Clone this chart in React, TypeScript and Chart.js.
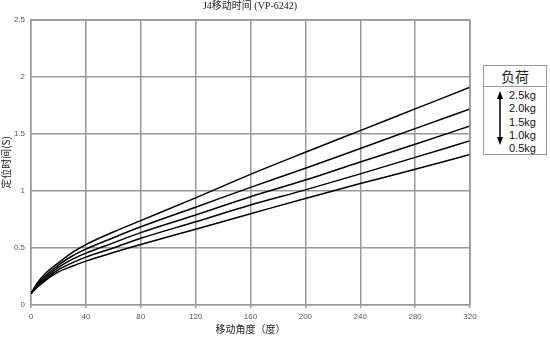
import React, { useEffect, useRef } from "react";
import { Chart, registerables } from "chart.js";

Chart.register(...registerables);

const angles = [0, 5, 10, 20, 30, 40, 60, 80, 120, 160, 200, 240, 280, 320];
const load25 = [0.1, 0.2, 0.27, 0.37, 0.46, 0.53, 0.64, 0.74, 0.94, 1.146, 1.34, 1.53, 1.72, 1.91];
const load20 = [0.1, 0.19, 0.25, 0.35, 0.43, 0.49, 0.59, 0.686, 0.858, 1.032, 1.2, 1.373, 1.547, 1.72];
const load15 = [0.1, 0.18, 0.235, 0.33, 0.4, 0.455, 0.545, 0.635, 0.79, 0.95, 1.096, 1.255, 1.41, 1.57];
const load10 = [0.1, 0.17, 0.22, 0.31, 0.37, 0.42, 0.5, 0.585, 0.73, 0.877, 1.01, 1.15, 1.295, 1.44];
const load05 = [0.1, 0.16, 0.21, 0.29, 0.34, 0.385, 0.46, 0.53, 0.665, 0.8, 0.935, 1.065, 1.19, 1.32];
const seriesNames = ["2.5kg", "2.0kg", "1.5kg", "1.0kg", "0.5kg"];
const seriesValues = [load25, load20, load15, load10, load05];
const xTicks = [0, 40, 80, 120, 160, 200, 240, 280, 320];
const yTicks = [0, 0.5, 1, 1.5, 2, 2.5];

export default function App() {
  const ref = useRef<HTMLCanvasElement>(null);
  useEffect(() => {
    if (!ref.current) return;
    const chart = new Chart(ref.current, {
      type: "line",
      data: {
        datasets: seriesValues.map((vals, i) => ({
          label: seriesNames[i],
          data: vals.map((v, j) => ({ x: angles[j], y: v })),
          borderColor: "#000",
          borderWidth: 1.5,
          pointRadius: 0,
          cubicInterpolationMode: "monotone" as const,
          fill: false,
        })),
      },
      options: {
        animation: false,
        responsive: false,
        devicePixelRatio: 1,
        layout: { padding: { top: 20, right: 80, left: 0, bottom: 0 } },
        plugins: { legend: { display: false }, tooltip: { enabled: false }, title: { display: false } },
        scales: {
          x: {
            type: "linear",
            min: 0,
            max: 320,
            afterBuildTicks: (s: any) => { s.ticks = xTicks.map((v) => ({ value: v })); },
            afterFit: (s: any) => { s.height = 32; },
            grid: { color: "#999", lineWidth: 1.5, tickLength: 3, drawTicks: true },
            border: { color: "#999", width: 1.5 },
            ticks: { color: "#555", font: { family: "Arial, 'Liberation Sans'", size: 8 }, padding: 4, maxRotation: 0 },
            title: { display: true, text: "移动角度（度）", color: "#222", font: { family: "'Noto Sans CJK SC'", size: 10 }, padding: { top: 2, bottom: 2 } },
          },
          y: {
            type: "linear",
            min: 0,
            max: 2.5,
            afterBuildTicks: (s: any) => { s.ticks = yTicks.map((v) => ({ value: v })); },
            afterFit: (s: any) => { s.width = 31; },
            grid: { color: "#999", lineWidth: 1.5, drawTicks: false },
            border: { color: "#999", width: 1.5 },
            ticks: { color: "#555", font: { family: "Arial, 'Liberation Sans'", size: 8 }, padding: 6, callback: (v: any) => String(v) },
            title: { display: true, text: "定位时间(S)", color: "#222", font: { family: "'Noto Sans CJK SC'", size: 10 }, padding: { top: 0, bottom: 0 } },
          },
        },
      },
      plugins: [
        {
          id: "rightBorder",
          afterDraw: (c: any) => {
            const { ctx, chartArea } = c;
            ctx.save();
            ctx.strokeStyle = "#999";
            ctx.lineWidth = 1.5;
            ctx.beginPath();
            ctx.moveTo(chartArea.right, chartArea.top);
            ctx.lineTo(chartArea.right, chartArea.bottom);
            ctx.moveTo(chartArea.left, chartArea.top);
            ctx.lineTo(chartArea.right, chartArea.top);
            ctx.stroke();
            ctx.restore();
          },
        },
      ],
    });
    return () => chart.destroy();
  }, []);

  return (
    <div style={{ position: "fixed", left: 0, top: 0, width: 550, height: 337, background: "#fff", overflow: "hidden" }}>
      <canvas ref={ref} width={550} height={337} style={{ position: "absolute", left: 0, top: 0, width: 550, height: 337 }} />
      <div style={{ position: "absolute", left: 150, width: 200, top: 0, textAlign: "center", fontFamily: "'Liberation Serif', 'Noto Sans CJK SC'", fontSize: 10, color: "#222", lineHeight: "12px" }}>
        J4移动时间 (VP-6242)
      </div>
      <div style={{ position: "absolute", left: 483, top: 65, width: 64, height: 90, border: "1px solid #999", boxSizing: "border-box", background: "#fff" }}>
        <div style={{ height: 20, borderBottom: "1px solid #999", textAlign: "center", fontFamily: "'Noto Sans CJK SC', serif", fontSize: 14, lineHeight: "20px", color: "#222" }}>
          负荷
        </div>
        <svg width={20} height={60} style={{ position: "absolute", left: 7, top: 24 }}>
          <line x1={9} y1={6} x2={9} y2={50} stroke="#000" strokeWidth={1.5} />
          <polygon points="9,1 6,9 12,9" fill="#000" />
          <polygon points="9,55 6,47 12,47" fill="#000" />
        </svg>
        {seriesNames.map((n, i) => (
          <div key={n} style={{ position: "absolute", left: 25, top: 23 + i * 13.3, fontFamily: "Arial, 'Liberation Sans'", fontSize: 11, lineHeight: "13px", color: "#111" }}>
            {n}
          </div>
        ))}
      </div>
    </div>
  );
}
